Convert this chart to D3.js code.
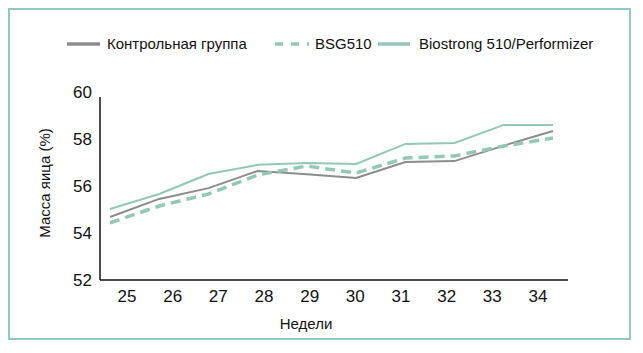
<!DOCTYPE html>
<html><head><meta charset="utf-8">
<script src="https://cdn.jsdelivr.net/npm/d3@7"></script>
<style>body{margin:0;background:#fff}svg{display:block;font-family:"Liberation Sans",Arial,sans-serif}</style>
</head><body><svg id="c" width="643" height="353"></svg>
<script>
const weeks = [25,26,27,28,29,30,31,32,33,34];
const seriesNames = ["Контрольная группа","BSG510","Biostrong 510/Performizer"];
const control = [54.68,55.45,55.91,56.64,56.50,56.34,57.02,57.06,57.72,58.34];
const bsg510 = [54.43,55.15,55.66,56.47,56.85,56.55,57.19,57.28,57.70,58.04];
const biostrong = [55.02,55.66,56.51,56.90,56.98,56.94,57.79,57.83,58.60,58.60];
const yTicks = [52,54,56,58,60];

const svg = d3.select("#c");
svg.append("rect").attr("x",9).attr("y",9).attr("width",621).attr("height",330)
  .attr("fill","none").attr("stroke","#8fcac2").attr("stroke-width",2);

const y = d3.scaleLinear().domain([52,60]).range([280,92]);
const xLine = d3.scalePoint().domain(weeks).range([110,553]);
const xAxisS = d3.scalePoint().domain(weeks).range([127,538]);

svg.append("line").attr("x1",100).attr("x2",100).attr("y1",y(52)).attr("y2",97)
  .attr("stroke","#111").attr("stroke-width",1.5);
svg.append("line").attr("x1",100).attr("x2",568).attr("y1",y(52)).attr("y2",y(52))
  .attr("stroke","#111").attr("stroke-width",1.5);

svg.selectAll(".yt").data(yTicks).join("text").attr("x",92).attr("y",d=>y(d))
  .attr("dy","0.35em").attr("text-anchor","end").attr("font-size",17).attr("fill","#111").text(d=>d);
svg.selectAll(".xt").data(weeks).join("text").attr("x",d=>xAxisS(d)).attr("y",296)
  .attr("dy","0.35em").attr("text-anchor","middle").attr("font-size",17).attr("fill","#111").text(d=>d);

svg.append("text").attr("x",306).attr("y",324).attr("dy","0.35em").attr("text-anchor","middle")
  .attr("font-size",15).attr("fill","#111").text("Недели");
svg.append("text").attr("transform","translate(45,183) rotate(-90)").attr("dy","0.35em")
  .attr("text-anchor","middle").attr("font-size",15).attr("fill","#111").text("Масса яица (%)");

const line = d3.line().x((d,i)=>xLine(weeks[i])).y(d=>y(d));
const styles = [
  {data:control,color:"#8c8c8c",w:2,dash:null},
  {data:bsg510,color:"#92c8b6",w:3.5,dash:"10,6"},
  {data:biostrong,color:"#92c8b6",w:2,dash:null}
];
styles.forEach(s=>{
  svg.append("path").attr("d",line(s.data)).attr("fill","none").attr("stroke",s.color)
    .attr("stroke-width",s.w).attr("stroke-dasharray",s.dash).attr("stroke-linejoin","miter");
});

const legX = [[67,100,107],[275,309,315],[378,410,419]];
seriesNames.forEach((n,i)=>{
  const s = styles[i];
  svg.append("line").attr("x1",legX[i][0]).attr("x2",legX[i][1]).attr("y1",44).attr("y2",44)
    .attr("stroke",s.color).attr("stroke-width",3.5).attr("stroke-dasharray",s.dash?"8,8":null);
  svg.append("text").attr("x",legX[i][2]).attr("y",44).attr("dy","0.35em").attr("font-size",15)
    .attr("fill","#111").text(n);
});
</script></body></html>
